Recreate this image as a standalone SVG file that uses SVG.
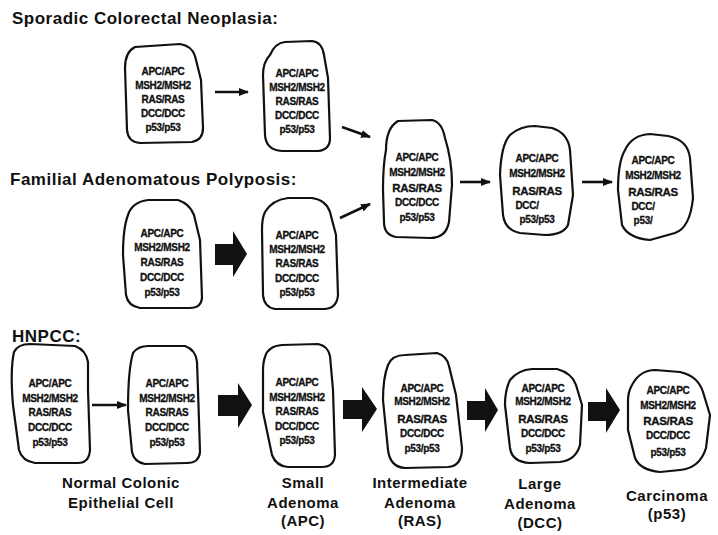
<svg xmlns="http://www.w3.org/2000/svg" width="718" height="535" viewBox="0 0 718 535">
<style>
.bg{fill:#fff}
.title{font-family:"Liberation Sans",Arial,sans-serif;font-weight:bold;font-size:17px;letter-spacing:0.5px;fill:#111}
.lab{font-family:"Liberation Sans",Arial,sans-serif;font-weight:bold;font-size:15px;letter-spacing:0.5px;fill:#111;text-anchor:middle}
.cell{fill:#fff;stroke:#111;stroke-width:2.2;stroke-linejoin:round}
.g{font-family:"Liberation Sans",Arial,sans-serif;font-weight:bold;font-size:10px;fill:#111;stroke:#111;stroke-width:0.3;text-anchor:middle;letter-spacing:-0.3px}
.big{font-size:11.5px}
.thin{stroke:#111;stroke-width:2.6;fill:none;marker-end:url(#ah)}
.block{fill:#111}
</style>
<defs>
<marker id="ah" viewBox="0 0 10 8" refX="9" refY="4" markerWidth="10" markerHeight="8" markerUnits="userSpaceOnUse" orient="auto">
<path d="M0,0 L10,4 L0,8 Z" fill="#111"/>
</marker>
</defs>
<rect class="bg" x="0" y="0" width="718" height="535"/>

<text class="title" x="12" y="24">Sporadic Colorectal Neoplasia:</text>
<text class="title" x="10" y="185">Familial Adenomatous Polyposis:</text>
<text class="title" x="12" y="342">HNPCC:</text>

<g id="connectors">
<line class="thin" x1="215" y1="92" x2="248" y2="92"/>
<line class="thin" x1="342" y1="127" x2="370" y2="137"/>
<line class="thin" x1="340" y1="218" x2="370" y2="204"/>
<line class="thin" x1="460" y1="182" x2="490" y2="182"/>
<line class="thin" x1="582" y1="182" x2="612" y2="182"/>
<line class="thin" x1="92" y1="405" x2="126" y2="405"/>
<polygon class="block" points="215,244 233,244 233,231 247,254 233,277 233,265 215,265"/>
<polygon class="block" points="218,395 238,395 238,383 252,405 238,428 238,416 218,416"/>
<polygon class="block" points="343,400 362,400 362,387 377,409 362,432 362,419 343,419"/>
<polygon class="block" points="467,401 485,401 485,388 498,410 485,432 485,420 467,420"/>
<polygon class="block" points="588,402 606,402 606,388 620,410 606,433 606,421 588,421"/>
</g>

<g id="sporadic-normal">
<path class="cell" d="M135,47 L180,44 Q192,46 195,56 L201,80 L203,128 Q203,140 192,142 L140,143 Q128,142 127,130 L125,68 Q125,52 135,47 Z"/>
<text class="g" x="163" y="75">APC/APC</text>
<text class="g" x="163" y="89">MSH2/MSH2</text>
<text class="g" x="163" y="103">RAS/RAS</text>
<text class="g" x="163" y="117">DCC/DCC</text>
<text class="g" x="163" y="131">p53/p53</text>
</g>

<g id="sporadic-small">
<path class="cell" d="M270,55 Q275,43 285,42 L312,41 Q322,42 324,55 L328,78 L330,138 Q330,150 318,151 L282,151 Q266,150 265,135 L263,75 Q263,62 270,55 Z"/>
<text class="g" x="297" y="77">APC/APC</text>
<text class="g" x="297" y="91">MSH2/MSH2</text>
<text class="g" x="297" y="105">RAS/RAS</text>
<text class="g" x="297" y="119">DCC/DCC</text>
<text class="g" x="297" y="133">p53/p53</text>
</g>

<g id="shared-intermediate">
<path class="cell" d="M386,150 Q386,128 398,121 L432,120 Q442,122 445,138 Q452,160 452,185 L449,222 Q446,238 430,238 L396,237 Q384,235 384,222 L383,190 Q383,165 386,150 Z"/>
<text class="g" x="417" y="161">APC/APC</text>
<text class="g" x="417" y="176">MSH2/MSH2</text>
<text class="g big" x="417" y="192">RAS/RAS</text>
<text class="g" x="417" y="206">DCC/DCC</text>
<text class="g" x="417" y="221">p53/p53</text>
</g>

<g id="shared-large">
<path class="cell" d="M510,135 Q520,126 535,126 L552,128 Q568,133 570,150 L573,195 L568,225 Q563,235 545,235 L520,233 Q505,230 503,215 L500,175 Q501,145 510,135 Z"/>
<text class="g" x="537" y="162">APC/APC</text>
<text class="g" x="537" y="177">MSH2/MSH2</text>
<text class="g big" x="537" y="195">RAS/RAS</text>
<text class="g" x="527" y="209">DCC/</text>
<text class="g" x="537" y="223">p53/p53</text>
</g>

<g id="shared-carcinoma">
<path class="cell" d="M625,150 Q632,135 650,134 L668,136 Q688,140 690,158 L693,198 Q690,228 675,233 L650,240 Q628,238 622,225 L618,190 Q618,162 625,150 Z"/>
<text class="g" x="653" y="164">APC/APC</text>
<text class="g" x="653" y="179">MSH2/MSH2</text>
<text class="g big" x="653" y="196">RAS/RAS</text>
<text class="g" x="643" y="210">DCC/</text>
<text class="g" x="643" y="224">p53/</text>
</g>

<g id="fap-normal">
<path class="cell" d="M128,215 Q132,202 148,200 L178,200 Q190,204 194,215 L200,240 L202,298 Q201,308 190,308 L140,308 Q128,306 126,295 L123,255 Q123,228 128,215 Z"/>
<text class="g" x="162" y="237">APC/APC</text>
<text class="g" x="162" y="251">MSH2/MSH2</text>
<text class="g" x="162" y="266">RAS/RAS</text>
<text class="g" x="162" y="281">DCC/DCC</text>
<text class="g" x="162" y="296">p53/p53</text>
</g>

<g id="fap-small">
<path class="cell" d="M265,212 Q272,200 288,198 L312,198 Q326,200 330,212 L336,235 L338,295 Q337,308 325,309 L275,309 Q264,307 263,295 L262,230 Q262,218 265,212 Z"/>
<text class="g" x="297" y="239">APC/APC</text>
<text class="g" x="297" y="253">MSH2/MSH2</text>
<text class="g" x="297" y="267">RAS/RAS</text>
<text class="g" x="297" y="282">DCC/DCC</text>
<text class="g" x="297" y="296">p53/p53</text>
</g>

<g id="hnpcc-normal">
<path class="cell" d="M14,352 Q18,344 30,344 L75,346 Q86,350 88,362 L88,390 L90,450 Q89,463 78,463 L35,463 Q22,461 19,450 L13,405 Q10,370 14,352 Z"/>
<text class="g" x="50" y="387">APC/APC</text>
<text class="g" x="50" y="402">MSH2/MSH2</text>
<text class="g" x="50" y="416">RAS/RAS</text>
<text class="g" x="50" y="431">DCC/DCC</text>
<text class="g" x="50" y="446">p53/p53</text>
</g>

<g id="hnpcc-normal-2">
<path class="cell" d="M133,353 Q138,346 148,346 L185,346 Q196,350 197,362 L198,390 L200,452 Q199,463 187,463 L145,464 Q134,462 132,452 L128,410 Q128,370 133,353 Z"/>
<text class="g" x="167" y="387">APC/APC</text>
<text class="g" x="167" y="402">MSH2/MSH2</text>
<text class="g" x="167" y="416">RAS/RAS</text>
<text class="g" x="167" y="431">DCC/DCC</text>
<text class="g" x="167" y="446">p53/p53</text>
</g>

<g id="hnpcc-small">
<path class="cell" d="M265,357 Q268,346 282,345 L318,344 Q328,346 330,356 L333,390 L335,455 Q334,467 322,467 L288,467 Q276,466 272,455 L263,412 L263,372 Q263,362 265,357 Z"/>
<text class="g" x="297" y="386">APC/APC</text>
<text class="g" x="297" y="401">MSH2/MSH2</text>
<text class="g" x="297" y="415">RAS/RAS</text>
<text class="g" x="297" y="430">DCC/DCC</text>
<text class="g" x="297" y="444">p53/p53</text>
</g>

<g id="hnpcc-intermediate">
<path class="cell" d="M388,365 Q392,355 405,355 L437,353 Q447,356 449,366 L456,395 L462,448 Q462,466 448,467 L405,468 Q390,467 388,450 L383,400 Q383,378 388,365 Z"/>
<text class="g" x="422" y="392">APC/APC</text>
<text class="g" x="422" y="405">MSH2/MSH2</text>
<text class="g big" x="422" y="423">RAS/RAS</text>
<text class="g" x="422" y="437">DCC/DCC</text>
<text class="g" x="422" y="452">p53/p53</text>
</g>

<g id="hnpcc-large">
<path class="cell" d="M510,380 Q518,370 532,369 L557,369 Q572,373 576,385 L582,405 L580,445 Q576,460 560,462 L530,463 Q512,462 510,448 L505,405 Q505,390 510,380 Z"/>
<text class="g" x="543" y="392">APC/APC</text>
<text class="g" x="543" y="405">MSH2/MSH2</text>
<text class="g big" x="543" y="423">RAS/RAS</text>
<text class="g" x="543" y="437">DCC/DCC</text>
<text class="g" x="543" y="452">p53/p53</text>
</g>

<g id="hnpcc-carcinoma">
<path class="cell" d="M632,385 Q640,370 655,370 L680,372 Q698,376 703,392 L710,415 L706,448 Q700,468 680,470 L660,472 Q640,470 635,458 L628,430 L628,400 Q628,392 632,385 Z"/>
<text class="g" x="668" y="394">APC/APC</text>
<text class="g" x="668" y="409">MSH2/MSH2</text>
<text class="g big" x="668" y="425">RAS/RAS</text>
<text class="g" x="668" y="439">DCC/DCC</text>
<text class="g" x="668" y="456">p53/p53</text>
</g>

<g id="labels">
<text class="lab" x="121" y="488">Normal Colonic</text>
<text class="lab" x="121" y="508">Epithelial Cell</text>
<text class="lab" x="303" y="488">Small</text>
<text class="lab" x="303" y="508">Adenoma</text>
<text class="lab" x="303" y="526">(APC)</text>
<text class="lab" x="420" y="488">Intermediate</text>
<text class="lab" x="420" y="508">Adenoma</text>
<text class="lab" x="420" y="526">(RAS)</text>
<text class="lab" x="540" y="489">Large</text>
<text class="lab" x="540" y="509">Adenoma</text>
<text class="lab" x="540" y="528">(DCC)</text>
<text class="lab" x="667" y="501">Carcinoma</text>
<text class="lab" x="667" y="519">(p53)</text>
</g>
</svg>
